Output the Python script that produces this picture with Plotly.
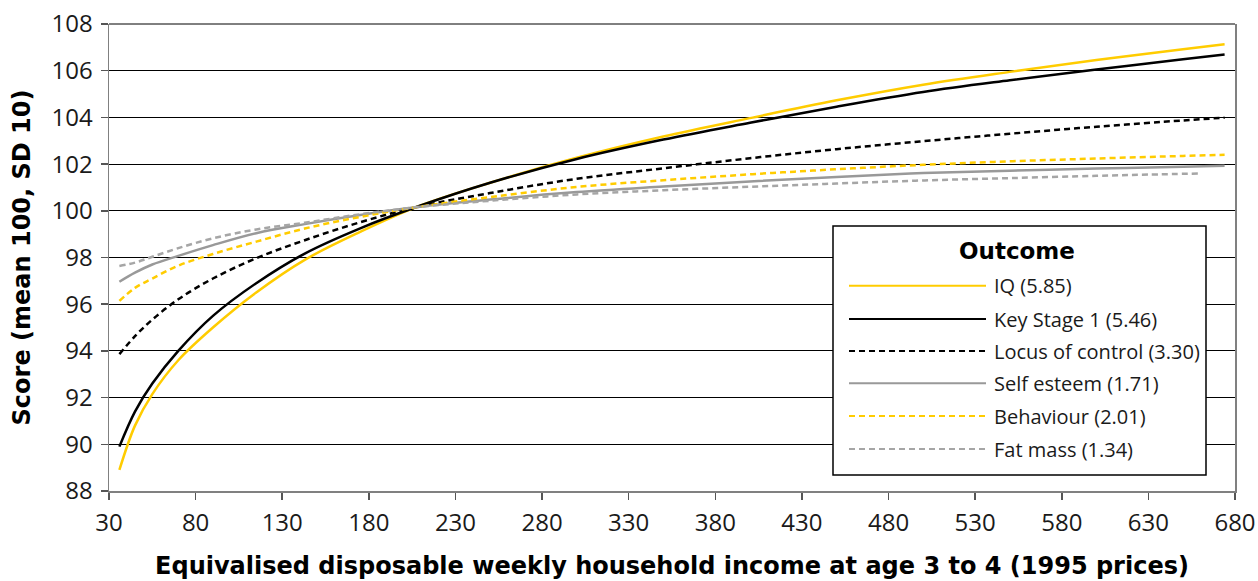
import plotly.graph_objects as go

# ---- data ----
income = [36, 45, 55, 70, 90, 115, 143, 175, 207, 250, 300, 350, 400, 450, 500, 550, 600, 650, 674]
iq = [88.9, 90.8, 92.15, 93.6, 95.0, 96.5, 97.9, 99.1, 100.15, 101.2, 102.27, 103.18, 103.97, 104.73, 105.4, 105.95, 106.46, 106.92, 107.13]
ks1 = [89.9, 91.4, 92.6, 94.0, 95.5, 96.9, 98.17, 99.25, 100.15, 101.2, 102.22, 103.05, 103.77, 104.46, 105.09, 105.59, 106.05, 106.49, 106.69]
locus = [93.86, 94.63, 95.34, 96.21, 97.1, 97.97, 98.74, 99.51, 100.15, 100.76, 101.37, 101.82, 102.25, 102.64, 102.98, 103.3, 103.6, 103.87, 103.99]
self_esteem = [96.96, 97.35, 97.7, 98.07, 98.53, 99.04, 99.43, 99.82, 100.15, 100.48, 100.8, 101.04, 101.26, 101.45, 101.62, 101.72, 101.81, 101.89, 101.93]
behaviour = [96.14, 96.7, 97.1, 97.65, 98.15, 98.68, 99.24, 99.74, 100.15, 100.59, 101.02, 101.31, 101.56, 101.78, 101.97, 102.12, 102.24, 102.35, 102.4]
income_fat = [36, 45, 55, 70, 90, 115, 143, 175, 207, 250, 300, 350, 400, 450, 500, 550, 600, 630, 660]
fat_mass = [97.64, 97.78, 98.03, 98.4, 98.82, 99.2, 99.49, 99.85, 100.15, 100.43, 100.7, 100.88, 101.03, 101.17, 101.3, 101.4, 101.5, 101.55, 101.6]

series_names = ["IQ (5.85)", "Key Stage 1 (5.46)", "Locus of control (3.30)",
                "Self esteem (1.71)", "Behaviour (2.01)", "Fat mass (1.34)"]
x_ticks = [30, 80, 130, 180, 230, 280, 330, 380, 430, 480, 530, 580, 630, 680]
y_ticks = [88, 90, 92, 94, 96, 98, 100, 102, 104, 106, 108]

# ---- styles ----
YEL = "#FFCC00"
GRY = "#999999"
GRY2 = "#A6A6A6"
DASH = "6px,4px"
styles = [
    (YEL, "solid"), ("#000000", "solid"), ("#000000", DASH),
    (GRY, "solid"), (YEL, DASH), (GRY2, DASH),
]
xs = [income, income, income, income, income, income_fat]
ys = [iq, ks1, locus, self_esteem, behaviour, fat_mass]

FONT = "Open Sans, Noto Sans, sans-serif"
BOLD = "DejaVu Sans, Open Sans, sans-serif"
W, H = 1258, 581
L, R, T, B = 109, 23, 24, 90
PW, PH = W - L - R, H - T - B

def px(xs_):  # screen pixel -> paper
    return (xs_ - L) / PW

def py(ys_):
    return (H - B - ys_) / PH

fig = go.Figure()
for name, x, y, (c, d) in zip(series_names, xs, ys, styles):
    fig.add_trace(go.Scatter(
        x=x, y=y, name=name, mode="lines",
        line=dict(color=c, width=2.5, dash=d, shape="spline", smoothing=1.0),
        showlegend=False, hoverinfo="skip",
    ))

# top border of the plot area (black like the gridlines)
shapes = [dict(type="line", xref="paper", yref="paper", x0=0, x1=1, y0=1, y1=1,
               line=dict(color="black", width=1), layer="below")]
# ---- custom legend box ----
shapes.append(dict(type="rect", xref="paper", yref="paper",
                   x0=px(833), x1=px(1206), y0=py(475), y1=py(226),
                   fillcolor="white", line=dict(color="black", width=1.5), layer="above"))
annotations = [dict(text="<b>Outcome</b>", xref="paper", yref="paper",
                    x=px(1017), y=py(251), xanchor="center", yanchor="middle",
                    showarrow=False, font=dict(family=BOLD, size=23, color="black"))]
row_y = [285.7, 319, 351, 383.3, 416, 449]
for name, (c, d), ry in zip(series_names, styles, row_y):
    shapes.append(dict(type="line", xref="paper", yref="paper",
                       x0=px(849), x1=px(986), y0=py(ry), y1=py(ry),
                       line=dict(color=c, width=2, dash=d), layer="above"))
    annotations.append(dict(text=name, xref="paper", yref="paper",
                            x=px(992), y=py(ry), xanchor="left", yanchor="middle",
                            showarrow=False,
                            font=dict(family=FONT, size=20, color="#1a1a1a")))

fig.update_layout(
    width=W, height=H, autosize=False,
    margin=dict(l=L, r=R, t=T, b=B, pad=0),
    paper_bgcolor="white", plot_bgcolor="white",
    font=dict(family=FONT, color="#1a1a1a"),
    shapes=shapes, annotations=annotations,
    showlegend=False,
)
fig.update_xaxes(
    range=[30, 680], tickvals=x_ticks, ticktext=[str(v) for v in x_ticks],
    showgrid=False, zeroline=False,
    showline=True, linecolor="#808080", linewidth=1.5,
    ticks="outside", ticklen=7, tickcolor="#555555", tickwidth=1.5,
    tickfont=dict(family=FONT, size=24, color="#1a1a1a"),
    ticklabelstandoff=3, ticklabeloverflow="allow",
    title=dict(text="<b>Equivalised disposable weekly household income at age 3 to 4 (1995 prices)</b>",
               font=dict(family=BOLD, size=24, color="black"), standoff=20),
    automargin=False,
)
fig.update_yaxes(
    range=[88, 108], tickvals=y_ticks, ticktext=[str(v) for v in y_ticks],
    showgrid=True, gridcolor="black", gridwidth=1, zeroline=False,
    showline=True, linecolor="#808080", linewidth=1.5, mirror=True,
    ticks="outside", ticklen=7, tickcolor="#555555", tickwidth=1.5,
    tickfont=dict(family=FONT, size=24, color="#1a1a1a"),
    ticklabelstandoff=3, ticklabeloverflow="allow",
    title=dict(text="<b>Score (mean 100, SD 10)</b>",
               font=dict(family=BOLD, size=24, color="black"), standoff=14),
    automargin=False,
)

fig.write_html(
    "out.html",
    config={"displayModeBar": False, "staticPlot": True},
    post_script="document.body.style.margin='0';document.body.style.overflow='hidden';",
)
